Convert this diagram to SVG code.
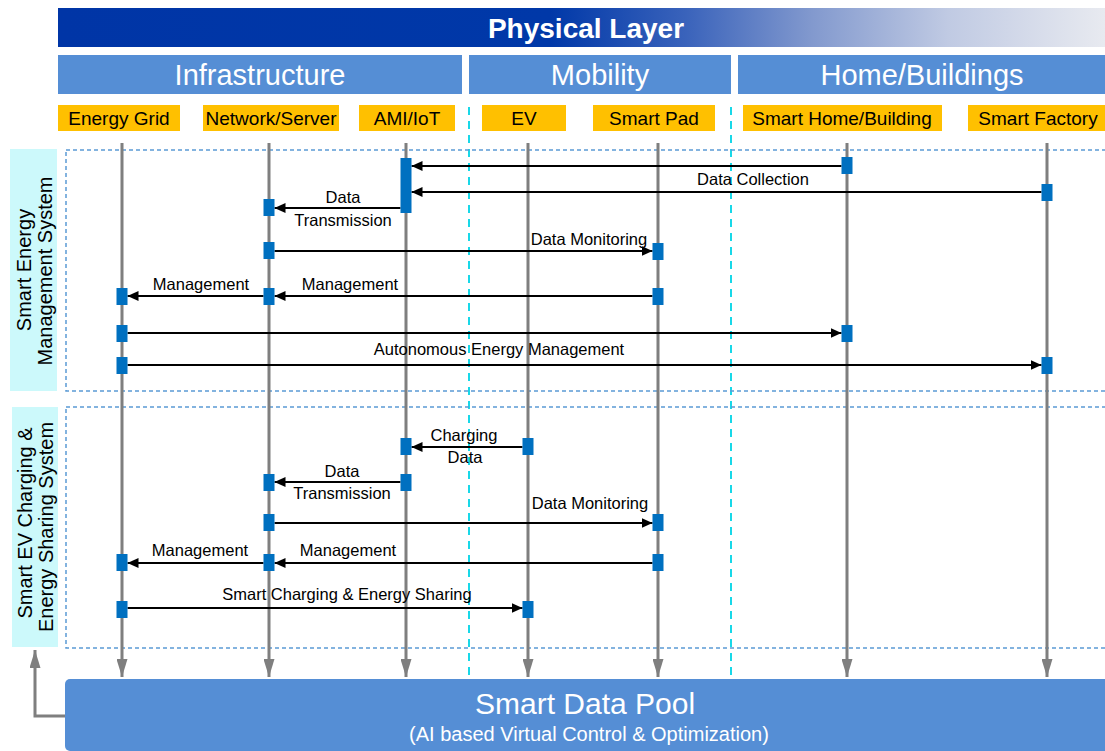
<svg xmlns="http://www.w3.org/2000/svg" width="1105" height="751" viewBox="0 0 1105 751">
<defs>
<linearGradient id="gPhys" gradientUnits="userSpaceOnUse" x1="58" y1="0" x2="1105" y2="0">
<stop offset="0" stop-color="#0035A6"/>
<stop offset="0.47" stop-color="#0038A8"/>
<stop offset="0.6" stop-color="#3A63BB"/>
<stop offset="0.72" stop-color="#8299CE"/>
<stop offset="0.85" stop-color="#C0CAE3"/>
<stop offset="1" stop-color="#E8EAF0"/>
</linearGradient>
<marker id="ah" markerUnits="userSpaceOnUse" viewBox="0 0 11 10" refX="11" refY="5" markerWidth="11" markerHeight="10" orient="auto">
<path d="M0,0 L11,5 L0,10 z" fill="#000"/>
</marker>
<marker id="ahg" markerUnits="userSpaceOnUse" viewBox="0 0 18 11" refX="18" refY="5.5" markerWidth="18" markerHeight="11" orient="auto">
<path d="M0,0 L18,5.5 L0,11 z" fill="#7F7F7F"/>
</marker>
<style>
text{font-family:"Liberation Sans",Arial,sans-serif;}
.hdr{fill:#558ED5;}
.hdrt{fill:#fff;font-size:29px;text-anchor:middle;}
.lab{fill:#FFC000;}
.labt{fill:#000;font-size:19px;text-anchor:middle;}
.life{stroke:#7F7F7F;stroke-width:3;fill:none;marker-end:url(#ahg);}
.msg{stroke:#000;stroke-width:2;fill:none;marker-end:url(#ah);}
.act{fill:#0070C0;}
.mt{font-size:16.5px;fill:#000;text-anchor:middle;}
.cyan{stroke:#18D8E8;stroke-width:2;stroke-dasharray:8 6;fill:none;}
.sec{stroke:#5B9BD5;stroke-width:1.5;stroke-dasharray:4 3;fill:none;}
.side{fill:#CCF9FB;}
.sidet{font-size:20px;fill:#000;text-anchor:middle;}
</style>
</defs>
<rect width="1105" height="751" fill="#fff"/>

<g id="physical-layer">
<rect x="58" y="8" width="1047" height="39" fill="url(#gPhys)"/>
<text x="586" y="38" fill="#fff" font-size="28" font-weight="bold" text-anchor="middle">Physical Layer</text>
</g>

<g id="infrastructure"><rect class="hdr" x="58" y="55" width="404" height="39"/><text class="hdrt" x="260" y="85">Infrastructure</text></g>
<g id="mobility"><rect class="hdr" x="469" y="55" width="262" height="39"/><text class="hdrt" x="600" y="85">Mobility</text></g>
<g id="home-buildings"><rect class="hdr" x="738" y="55" width="367" height="39"/><text class="hdrt" x="922" y="85">Home/Buildings</text></g>

<g id="cyan-separators">
<line class="cyan" x1="469" y1="107" x2="469" y2="675"/>
<line class="cyan" x1="731" y1="107" x2="731" y2="675"/>
</g>

<g id="sems-section">
<rect class="sec" x="66" y="150" width="1050" height="241"/>
<rect class="side" x="10" y="149" width="47" height="242"/>
<text class="sidet" transform="translate(31,270) rotate(-90)">Smart Energy</text>
<text class="sidet" transform="translate(52,271) rotate(-90)">Management  System</text>
</g>

<g id="evcs-section">
<rect class="sec" x="66" y="407" width="1050" height="241"/>
<rect class="side" x="12" y="407" width="46" height="240"/>
<text class="sidet" transform="translate(32,523) rotate(-90)">Smart EV Charging &amp;</text>
<text class="sidet" transform="translate(53,527) rotate(-90)">Energy  Sharing  System</text>
</g>

<g id="lifelines">
<line class="life" x1="122" y1="143" x2="122" y2="677"/>
<line class="life" x1="269" y1="143" x2="269" y2="677"/>
<line class="life" x1="406" y1="143" x2="406" y2="677"/>
<line class="life" x1="528" y1="143" x2="528" y2="677"/>
<line class="life" x1="658" y1="143" x2="658" y2="677"/>
<line class="life" x1="847" y1="143" x2="847" y2="677"/>
<line class="life" x1="1047" y1="143" x2="1047" y2="677"/>
</g>

<g id="energy-grid"><rect class="lab" x="58" y="105" width="122" height="26"/><text class="labt" x="119" y="125">Energy Grid</text></g>
<g id="network-server"><rect class="lab" x="203" y="105" width="136" height="26"/><text class="labt" x="271" y="125">Network/Server</text></g>
<g id="ami-iot"><rect class="lab" x="359" y="105" width="96" height="26"/><text class="labt" x="407" y="125">AMI/IoT</text></g>
<g id="ev"><rect class="lab" x="482" y="105" width="84" height="26"/><text class="labt" x="524" y="125">EV</text></g>
<g id="smart-pad"><rect class="lab" x="593" y="105" width="122" height="26"/><text class="labt" x="654" y="125">Smart Pad</text></g>
<g id="smart-home"><rect class="lab" x="743" y="105" width="199" height="26"/><text class="labt" x="842" y="125">Smart Home/Building</text></g>
<g id="smart-factory"><rect class="lab" x="968" y="105" width="137" height="26"/><text class="labt" x="1038" y="125">Smart Factory</text></g>

<g id="connectors">
<line class="msg" x1="841.5" y1="166" x2="411.5" y2="166"/>
<line class="msg" x1="1041.5" y1="192" x2="411.5" y2="192"/>
<line class="msg" x1="400.5" y1="208" x2="274.5" y2="208"/>
<line class="msg" x1="274.5" y1="251" x2="652.5" y2="251"/>
<line class="msg" x1="652.5" y1="296" x2="274.5" y2="296"/>
<line class="msg" x1="263.5" y1="296" x2="127.5" y2="296"/>
<line class="msg" x1="127.5" y1="333" x2="841.5" y2="333"/>
<line class="msg" x1="127.5" y1="365" x2="1041.5" y2="365"/>
<line class="msg" x1="522.5" y1="447" x2="411.5" y2="447"/>
<line class="msg" x1="400.5" y1="482" x2="274.5" y2="482"/>
<line class="msg" x1="274.5" y1="523" x2="652.5" y2="523"/>
<line class="msg" x1="652.5" y1="563" x2="274.5" y2="563"/>
<line class="msg" x1="263.5" y1="563" x2="127.5" y2="563"/>
<line class="msg" x1="127.5" y1="608" x2="522.5" y2="608"/>
<path d="M65,716 L35,716 L35,650" stroke="#7F7F7F" stroke-width="3" fill="none" marker-end="url(#ahg)"/>
</g>

<g id="activations">
<rect class="act" x="400.5" y="158" width="11" height="55"/>
<rect class="act" x="841.5" y="157" width="11" height="17"/>
<rect class="act" x="1041.5" y="184" width="11" height="17"/>
<rect class="act" x="263.5" y="199" width="11" height="17"/>
<rect class="act" x="263.5" y="242" width="11" height="17"/>
<rect class="act" x="652.5" y="243" width="11" height="17"/>
<rect class="act" x="652.5" y="288" width="11" height="17"/>
<rect class="act" x="263.5" y="288" width="11" height="17"/>
<rect class="act" x="116.5" y="288" width="11" height="17"/>
<rect class="act" x="116.5" y="325" width="11" height="17"/>
<rect class="act" x="841.5" y="325" width="11" height="17"/>
<rect class="act" x="116.5" y="357" width="11" height="17"/>
<rect class="act" x="1041.5" y="357" width="11" height="17"/>
<rect class="act" x="400.5" y="438" width="11" height="17"/>
<rect class="act" x="522.5" y="438" width="11" height="17"/>
<rect class="act" x="400.5" y="474" width="11" height="17"/>
<rect class="act" x="263.5" y="474" width="11" height="17"/>
<rect class="act" x="263.5" y="514" width="11" height="17"/>
<rect class="act" x="652.5" y="514" width="11" height="17"/>
<rect class="act" x="652.5" y="554" width="11" height="17"/>
<rect class="act" x="263.5" y="554" width="11" height="17"/>
<rect class="act" x="116.5" y="554" width="11" height="17"/>
<rect class="act" x="116.5" y="601" width="11" height="17"/>
<rect class="act" x="522.5" y="601" width="11" height="17"/>
</g>

<g id="message-labels">
<text class="mt" x="753" y="185">Data Collection</text>
<text class="mt" x="343" y="203">Data</text>
<text class="mt" x="343" y="226">Transmission</text>
<text class="mt" x="589" y="245">Data Monitoring</text>
<text class="mt" x="350" y="290">Management</text>
<text class="mt" x="201" y="290">Management</text>
<text class="mt" x="499" y="355">Autonomous Energy Management</text>
<text class="mt" x="464" y="441">Charging</text>
<text class="mt" x="465" y="463">Data</text>
<text class="mt" x="342" y="477">Data</text>
<text class="mt" x="342" y="499">Transmission</text>
<text class="mt" x="590" y="509">Data Monitoring</text>
<text class="mt" x="348" y="556">Management</text>
<text class="mt" x="200" y="556">Management</text>
<text class="mt" x="347" y="600">Smart Charging &amp; Energy Sharing</text>
</g>

<g id="smart-data-pool">
<rect x="65" y="679" width="1050" height="72" rx="5" fill="#558ED5"/>
<text x="585" y="714" fill="#fff" font-size="30" text-anchor="middle">Smart Data Pool</text>
<text x="589" y="741" fill="#fff" font-size="20" text-anchor="middle">(AI based Virtual Control &amp; Optimization)</text>
</g>
</svg>
